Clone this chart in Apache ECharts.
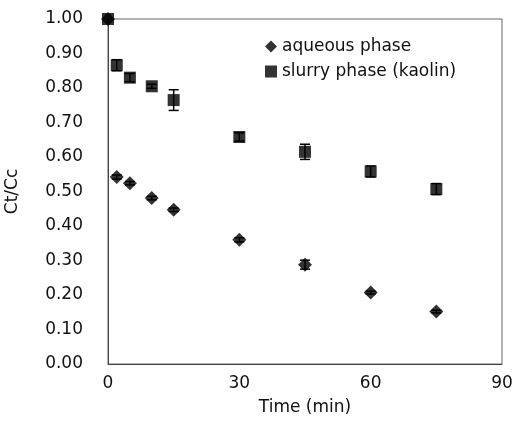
<!DOCTYPE html>
<html>
<head>
<meta charset="utf-8">
<script src="https://cdn.jsdelivr.net/npm/echarts@6/dist/echarts.min.js"></script>
<style>
  html, body { margin: 0; padding: 0; background: #fff; }
  #chart { width: 515px; height: 428px; }
</style>
</head>
<body>
<div id="chart"></div>
<script>
// time points (min)
const times = [0, 2, 5, 10, 15, 30, 45, 60, 75]
// aqueous phase Ct/Cc and its error
const aqueous = [1.00, 0.542, 0.524, 0.481, 0.447, 0.360, 0.288, 0.207, 0.152]
const aqueousErr = [0, 0.006, 0.005, 0.005, 0.005, 0.006, 0.013, 0.004, 0.004]
// slurry phase (kaolin) Ct/Cc and its error
const slurry = [1.00, 0.866, 0.830, 0.805, 0.765, 0.658, 0.615, 0.558, 0.507]
const slurryErr = [0, 0.016, 0.012, 0.006, 0.030, 0.012, 0.022, 0.016, 0.016]

const font = 'DejaVu Sans, sans-serif'

function pairs(ys) {
  return times.map((t, i) => [t, ys[i]])
}

function errData(ys, errs) {
  return times.map((t, i) => [t, ys[i] - errs[i], ys[i] + errs[i]]).filter((d, i) => errs[i] > 0)
}

function errRender(params, api) {
  const x = api.value(0)
  const lo = api.coord([x, api.value(1)])
  const hi = api.coord([x, api.value(2)])
  const w = 5
  const style = { stroke: '#000', lineWidth: 1.5 }
  return {
    type: 'group',
    children: [
      { type: 'line', shape: { x1: lo[0], y1: lo[1], x2: hi[0], y2: hi[1] }, style: style },
      { type: 'line', shape: { x1: lo[0] - w, y1: lo[1], x2: lo[0] + w, y2: lo[1] }, style: style },
      { type: 'line', shape: { x1: hi[0] - w, y1: hi[1], x2: hi[0] + w, y2: hi[1] }, style: style }
    ]
  }
}

const chart = echarts.init(document.getElementById('chart'))
chart.setOption({
  backgroundColor: '#fff',
  animation: false,
  grid: {
    left: 108, right: 13, top: 19, bottom: 64,
    outerBoundsMode: 'none',
    show: true, borderColor: '#666', borderWidth: 1
  },
  legend: {
    orient: 'vertical',
    left: 260,
    top: 33,
    itemGap: 8,
    itemWidth: 12,
    itemHeight: 12,
    textStyle: { fontFamily: font, fontSize: 17, color: '#111' },
    data: ['aqueous phase', 'slurry phase (kaolin)']
  },
  xAxis: {
    type: 'value',
    min: 0,
    max: 90,
    interval: 30,
    name: 'Time (min)',
    nameLocation: 'middle',
    nameGap: 35,
    nameTextStyle: { fontFamily: font, fontSize: 17, color: '#111' },
    axisLine: { show: true, onZero: false, lineStyle: { color: '#444' } },
    axisTick: { show: false },
    splitLine: { show: false },
    axisLabel: { fontFamily: font, fontSize: 17, color: '#111', margin: 11 }
  },
  yAxis: {
    type: 'value',
    min: 0,
    max: 1,
    interval: 0.1,
    name: 'Ct/Cc',
    nameLocation: 'middle',
    nameGap: 87,
    nameTextStyle: { fontFamily: font, fontSize: 17, color: '#111' },
    axisLine: { show: true, lineStyle: { color: '#444' } },
    axisTick: { show: false },
    splitLine: { show: false },
    axisLabel: { fontFamily: font, fontSize: 17, color: '#111', margin: 25, formatter: v => v.toFixed(2) }
  },
  series: [
    {
      name: 'aqueous phase',
      type: 'scatter',
      symbol: 'diamond',
      symbolSize: 14,
      itemStyle: { color: '#000' },
      data: pairs(aqueous),
      z: 3
    },
    {
      name: 'slurry phase (kaolin)',
      type: 'scatter',
      symbol: 'rect',
      symbolSize: 12,
      itemStyle: { color: '#000' },
      data: pairs(slurry),
      z: 3
    },
    {
      type: 'custom',
      renderItem: errRender,
      data: errData(aqueous, aqueousErr),
      encode: { x: 0, y: [1, 2] },
      z: 2
    },
    {
      type: 'custom',
      renderItem: errRender,
      data: errData(slurry, slurryErr),
      encode: { x: 0, y: [1, 2] },
      z: 2
    }
  ]
})
</script>
</body>
</html>
